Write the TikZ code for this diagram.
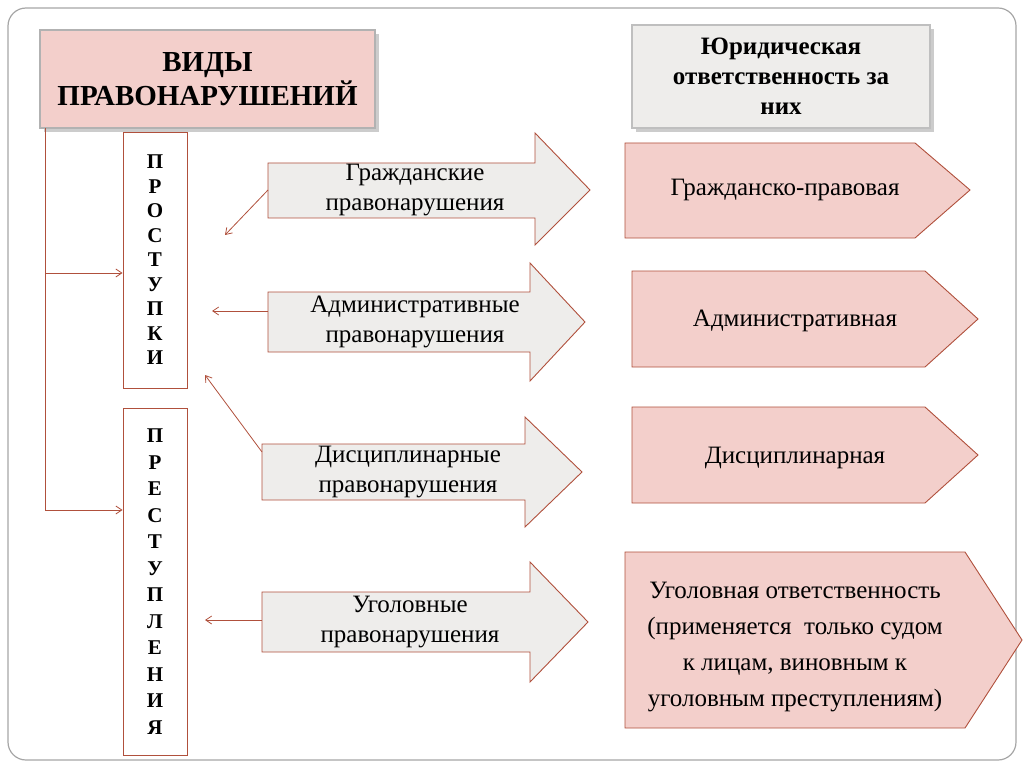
\documentclass[tikz,border=0pt]{standalone}
\usepackage{fontspec}
\setmainfont{Liberation Serif}
\usetikzlibrary{arrows.meta}
\definecolor{dred}{HTML}{B0503C}
\definecolor{pinkf}{HTML}{F3CFCB}
\definecolor{grayf}{HTML}{EEEDEB}
\tikzset{
 arr/.style={draw=dred,fill=grayf,line width=0.9pt},
 pent/.style={draw=dred,fill=pinkf,line width=0.9pt},
 lbl/.style={align=center,font=\fontsize{25}{30}\selectfont,inner sep=0pt},
 vbox/.style={draw=dred,fill=white,line width=0.9pt},
 link/.style={draw=dred,line width=0.8pt,-{Straight Barb[length=6pt,width=8pt]}},
}
\begin{document}
\begin{tikzpicture}[x=1pt,y=-1pt]
\useasboundingbox (0,0) rectangle (1024,767);
\draw[gray!70,line width=1.2pt,rounded corners=18] (8,8) rectangle (1016,760);
% headers
\fill[gray!40] (44,34) rectangle (379,132);
\node[draw=gray!60,fill=pinkf,line width=1.5pt,minimum width=335,minimum height=98,align=center,font=\bfseries\fontsize{29}{34}\selectfont] (h1) at (207.5,79) {ВИДЫ\\ПРАВОНАРУШЕНИЙ};
\fill[gray!40] (636,29) rectangle (934,132);
\node[draw=gray!50,fill=grayf,line width=1.5pt,minimum width=298,minimum height=103,align=center,font=\bfseries\fontsize{25}{30}\selectfont] (h2) at (781,76.5) {Юридическая\\ответственность за\\них};
% vertical boxes
\node[vbox,minimum width=64,minimum height=256,align=center,font=\bfseries\fontsize{21}{24.5}\selectfont] (v1) at (155,260) {П\\Р\\О\\С\\Т\\У\\П\\К\\И};
\node[vbox,minimum width=64,minimum height=347,align=center,font=\bfseries\fontsize{21}{26.5}\selectfont] (v2) at (155,581.5) {П\\Р\\Е\\С\\Т\\У\\П\\Л\\Е\\Н\\И\\Я};
% left connector
\coordinate (t) at (45,128);
\coordinate (a1) at (45,273);
\coordinate (a2) at (45,510);
\draw[dred,line width=0.8pt] (t) -- (a2);
\draw[link] (a1) -- (v1.west|-a1);
\draw[link] (a2) -- (v2.west|-a2);
% arrows
\draw[arr] (268,163)--(535,163)--(535,133)--(590,190)--(535,245)--(535,218)--(268,218)--cycle;
\node[lbl] (g1) at (415,190) {Гражданские\\правонарушения};
\draw[arr] (268,292)--(530,292)--(530,263)--(585,322)--(530,381)--(530,352)--(268,352)--cycle;
\node[lbl] (g2) at (415,322) {Административные\\правонарушения};
\draw[arr] (262,444)--(525,444)--(525,417)--(582,472)--(525,527)--(525,500)--(262,500)--cycle;
\node[lbl] (g3) at (408,472) {Дисциплинарные\\правонарушения};
\draw[arr] (262,592)--(530,592)--(530,562)--(588,622)--(530,682)--(530,652)--(262,652)--cycle;
\node[lbl] (g4) at (410,622) {Уголовные\\правонарушения};
% small links
\coordinate (s1) at (268,190); \coordinate (e1) at (225,235);
\draw[link] (s1) -- (e1);
\coordinate (s2) at (268,311); \coordinate (e2) at (212,311);
\draw[link] (s2) -- (e2);
\coordinate (s3) at (262,452); \coordinate (e3) at (205,375);
\draw[link] (s3) -- (e3);
\coordinate (s4) at (262,620); \coordinate (e4) at (205,620);
\draw[link] (s4) -- (e4);
% pentagons
\draw[pent] (625,143)--(915,143)--(970,190)--(915,238)--(625,238)--cycle;
\node[lbl] (r1) at (785,190) {Гражданско-правовая};
\draw[pent] (632,271)--(925,271)--(978,319)--(925,367)--(632,367)--cycle;
\node[lbl] (r2) at (795,321) {Административная};
\draw[pent] (632,407)--(925,407)--(978,455)--(925,503)--(632,503)--cycle;
\node[lbl] (r3) at (795,458) {Дисциплинарная};
\draw[pent] (625,552)--(965,552)--(1022,640)--(965,728)--(625,728)--cycle;
\node[lbl,font=\fontsize{25}{36}\selectfont] (r4) at (795,647) {Уголовная ответственность\\(применяется\ \ только судом\\к лицам, виновным к\\уголовным преступлениям)};
\end{tikzpicture}
\end{document}
